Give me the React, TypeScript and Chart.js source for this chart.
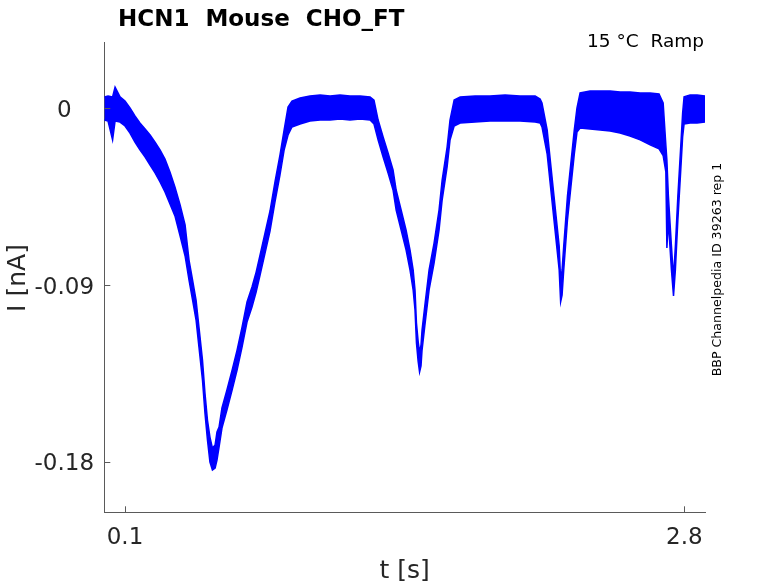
import React, { useEffect, useRef } from "react";
import { Chart, registerables } from "chart.js";

Chart.register(...registerables);

// ---- data ----
const timeS = [
  0.0, 0.018, 0.04, 0.052, 0.076, 0.1, 0.124, 0.148, 0.172, 0.197, 0.221, 0.245, 0.269, 0.293, 0.317, 0.341,
  0.366, 0.39, 0.409, 0.426, 0.443, 0.457, 0.474, 0.486, 0.498, 0.51, 0.522, 0.535, 0.544, 0.554, 0.568, 0.592,
  0.617, 0.641, 0.665, 0.689, 0.713, 0.733, 0.752, 0.776, 0.8, 0.824, 0.848, 0.868, 0.887, 0.906,
  0.945, 0.993, 1.042, 1.09, 1.138, 1.186, 1.235, 1.283,
  1.302, 1.322, 1.346, 1.37, 1.394, 1.409, 1.433, 1.457, 1.476, 1.491, 1.5, 1.507, 1.515, 1.522, 1.529, 1.534,
  1.549, 1.568, 1.592, 1.616, 1.631, 1.655, 1.669, 1.689,
  1.718, 1.79, 1.862, 1.935, 2.007, 2.08,
  2.104, 2.113, 2.138, 2.171, 2.196, 2.203, 2.21, 2.218, 2.236, 2.269, 2.282, 2.297,
  2.345, 2.394, 2.442, 2.49, 2.538, 2.587, 2.635, 2.678,
  2.698, 2.711, 2.716, 2.723, 2.738, 2.748, 2.757, 2.769, 2.783, 2.792, 2.799,
  2.828, 2.862, 2.9,
];

// upper edge of the overlaid noisy current traces (nA)
const upperNA = [
  0.0059, 0.0064, 0.0059, 0.0109, 0.0059, 0.0038, 0.0003, -0.0038, -0.0074, -0.0104, -0.0135, -0.0171, -0.0211,
  -0.0257, -0.0323, -0.04, -0.0491, -0.0593, -0.0772, -0.0873, -0.0975, -0.1113, -0.1281, -0.1449, -0.1586,
  -0.1673, -0.1729, -0.1713, -0.1647, -0.1622, -0.1525, -0.1433, -0.1332, -0.123, -0.1113, -0.0985, -0.0909,
  -0.0833, -0.0746, -0.0634, -0.0522, -0.0374, -0.0237, -0.011, 0.0008, 0.0038,
  0.0053, 0.0064, 0.0069, 0.0064, 0.0069, 0.0064, 0.0064, 0.0059,
  0.0043, -0.0059, -0.0145, -0.0227, -0.0313, -0.0415, -0.0517, -0.0619, -0.0721, -0.0822, -0.0924, -0.1092,
  -0.1184, -0.124, -0.1204, -0.1128, -0.099, -0.0822, -0.0685, -0.0517, -0.0364, -0.0196, -0.0059, 0.0043,
  0.0059, 0.0064, 0.0064, 0.0069, 0.0064, 0.0064,
  0.0048, 0.0028, -0.0109, -0.0446, -0.07, -0.0873, -0.0822, -0.07, -0.0446, -0.0109, 0.0003, 0.0079,
  0.0089, 0.0089, 0.0089, 0.0084, 0.0084, 0.0079, 0.0079, 0.0074,
  0.0028, -0.0186, -0.0262, -0.044, -0.07, -0.0863, -0.07, -0.0446, -0.0191, -0.0023, 0.0059,
  0.0069, 0.0069, 0.0064,
];

// lower edge of the overlaid noisy current traces (nA)
const lowerNA = [
  -0.0059, -0.0064, -0.016, -0.0064, -0.0069, -0.0089, -0.0125, -0.0171, -0.0211, -0.0247, -0.0288, -0.0328,
  -0.0374, -0.0425, -0.0486, -0.0547, -0.0649, -0.0751, -0.0874, -0.0975, -0.1077, -0.1215, -0.1383, -0.1551,
  -0.1688, -0.18, -0.1841, -0.1831, -0.179, -0.1724, -0.1627, -0.1535, -0.1434, -0.1332, -0.1215, -0.1087, -0.1011,
  -0.0935, -0.0848, -0.0736, -0.0624, -0.0476, -0.0339, -0.0212, -0.0135, -0.0094,
  -0.0079, -0.0064, -0.0059, -0.0059, -0.0053, -0.0059, -0.0053, -0.0059,
  -0.0079, -0.0161, -0.0247, -0.0329, -0.0415, -0.0517, -0.0619, -0.0721, -0.0823, -0.0924, -0.1026, -0.1194,
  -0.1286, -0.1342, -0.1311, -0.123, -0.1092, -0.0924, -0.0787, -0.0619, -0.0466, -0.0298, -0.0161, -0.0089,
  -0.0074, -0.0069, -0.0064, -0.0064, -0.0064, -0.0069,
  -0.0074, -0.0094, -0.0232, -0.0568, -0.0822, -0.0985, -0.095, -0.0822, -0.0568, -0.0232, -0.012, -0.0099,
  -0.0104, -0.0109, -0.0115, -0.0125, -0.014, -0.016, -0.0185, -0.0205,
  -0.0240, -0.0323, -0.071, -0.0573, -0.0822, -0.0955, -0.0822, -0.0568, -0.0313, -0.0145, -0.0079,
  -0.0074, -0.0074, -0.0069,
];

const xTickValues = [0.1, 2.8];
const xTickLabels = ["0.1", "2.8"];
const yTickValues = [0, -0.09, -0.18];
const yTickLabels = ["0", "-0.09", "-0.18"];

const X_MIN = 0;
const X_MAX = 2.9;
const Y_MIN = -0.2056;
const Y_MAX = 0.0335;

const TITLE = "HCN1  Mouse  CHO_FT";
const CONDITION = "15 \u00B0C  Ramp";
const SOURCE = "BBP Channelpedia ID 39263 rep 1";
const X_LABEL = "t [s]";
const Y_LABEL = "I [nA]";

const TRACE_COLOR = "#0000ff";
const AXIS_COLOR = "#5a5a5a";
const TEXT_COLOR = "#262626";
const FONT = "'DejaVu Sans', sans-serif";

const overlayPlugin = {
  id: "overlay",
  afterDraw(chart: any) {
    const { ctx, chartArea, scales } = chart;
    const xs = scales.x;
    const ys = scales.y;
    ctx.save();
    // inward tick marks
    ctx.strokeStyle = AXIS_COLOR;
    ctx.lineWidth = 1;
    xTickValues.forEach((v) => {
      const px = Math.round(xs.getPixelForValue(v)) + 0.5;
      ctx.beginPath();
      ctx.moveTo(px, chartArea.bottom);
      ctx.lineTo(px, chartArea.bottom - 6);
      ctx.stroke();
    });
    yTickValues.forEach((v) => {
      const py = Math.round(ys.getPixelForValue(v)) + 0.5;
      ctx.beginPath();
      ctx.moveTo(chartArea.left, py);
      ctx.lineTo(chartArea.left + 6, py);
      ctx.stroke();
    });

    // tick labels
    ctx.fillStyle = TEXT_COLOR;
    ctx.font = `23px ${FONT}`;
    ctx.textBaseline = "alphabetic";
    ctx.textAlign = "center";
    xTickValues.forEach((v, i) => {
      ctx.fillText(xTickLabels[i], xs.getPixelForValue(v), chartArea.bottom + 32);
    });
    yTickValues.forEach((v, i) => {
      ctx.fillText(yTickLabels[i], chartArea.left - 40, ys.getPixelForValue(v) + 8.4);
    });

    // axis titles
    ctx.font = `25px ${FONT}`;
    ctx.textAlign = "center";
    ctx.fillText(X_LABEL, (chartArea.left + chartArea.right) / 2, 578);
    ctx.save();
    ctx.translate(25, 278);
    ctx.rotate(-Math.PI / 2);
    ctx.fillText(Y_LABEL, 0, 0);
    ctx.restore();

    // title
    ctx.fillStyle = "#000000";
    ctx.font = `bold 23px ${FONT}`;
    ctx.textAlign = "left";
    ctx.fillText(TITLE, 118, 26);

    // condition label
    ctx.font = `18.5px ${FONT}`;
    ctx.textAlign = "right";
    ctx.fillText(CONDITION, chartArea.right - 1, 47);

    // source, vertical
    ctx.font = `12.6px ${FONT}`;
    ctx.textAlign = "center";
    ctx.save();
    ctx.translate(720.5, 269.5);
    ctx.rotate(-Math.PI / 2);
    ctx.fillText(SOURCE, 0, 0);
    ctx.restore();

    ctx.restore();
  },
};

export default function App() {
  const canvasRef = useRef<HTMLCanvasElement | null>(null);

  useEffect(() => {
    document.body.style.margin = "0";
    const canvas = canvasRef.current;
    if (!canvas) return;
    const upperPts = timeS.map((t, i) => ({ x: t, y: upperNA[i] }));
    const lowerPts = timeS.map((t, i) => ({ x: t, y: lowerNA[i] }));
    const chart = new Chart(canvas, {
      type: "line",
      data: {
        datasets: [
          {
            label: "upper",
            data: upperPts,
            borderColor: TRACE_COLOR,
            backgroundColor: TRACE_COLOR,
            borderWidth: 1.5,
            pointRadius: 0,
            tension: 0,
            fill: false,
          },
          {
            label: "lower",
            data: lowerPts,
            borderColor: TRACE_COLOR,
            backgroundColor: TRACE_COLOR,
            borderWidth: 1.5,
            pointRadius: 0,
            tension: 0,
            fill: "-1",
          },
        ],
      },
      options: {
        animation: false,
        responsive: false,
        devicePixelRatio: 1,
        parsing: false as any,
        layout: { padding: { top: 42.7, right: 73, left: 0, bottom: 0 } },
        plugins: {
          legend: { display: false },
          tooltip: { enabled: false },
          title: { display: false },
        },
        scales: {
          x: {
            type: "linear",
            min: X_MIN,
            max: X_MAX,
            grid: { display: false },
            border: { display: true, color: AXIS_COLOR, width: 1 },
            ticks: { display: false },
            afterFit: (s: any) => {
              s.height = 70.7;
            },
          },
          y: {
            type: "linear",
            min: Y_MIN,
            max: Y_MAX,
            grid: { display: false },
            border: { display: true, color: AXIS_COLOR, width: 1 },
            ticks: { display: false },
            afterFit: (s: any) => {
              s.width = 104.3;
            },
          },
        },
      },
      plugins: [overlayPlugin],
    });
    return () => chart.destroy();
  }, []);

  return (
    <div style={{ width: 778, height: 583, background: "#ffffff" }}>
      <canvas ref={canvasRef} width={778} height={583} style={{ display: "block" }} />
    </div>
  );
}
